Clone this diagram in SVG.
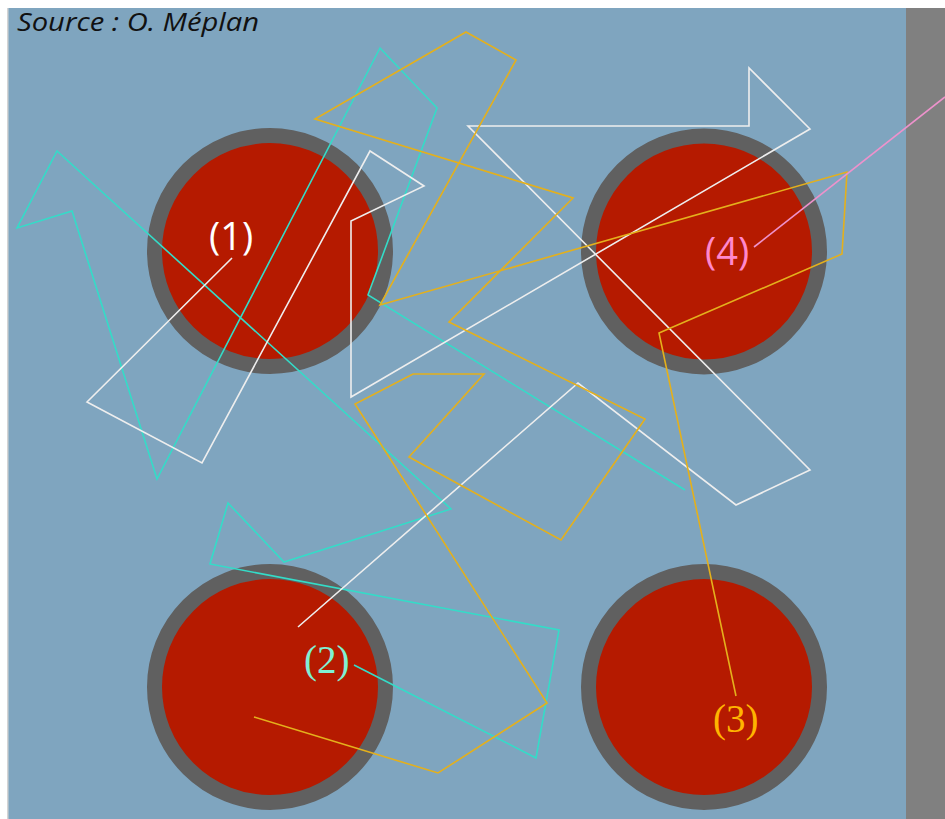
<svg xmlns="http://www.w3.org/2000/svg" width="945" height="819" viewBox="0 0 945 819">
<style>
.ring{fill:#b51a00;stroke:#606060;stroke-width:15}
.ray{fill:none;stroke-width:1.6;stroke-linejoin:miter}
.cyan{stroke:#34dcc8}
.white{stroke:#eeeeee}
.yellow{stroke:#e4b01c}
.pink{stroke:#ee92cc}
.sans{font-family:"Open Sans","Liberation Sans",sans-serif;font-size:38px}
.serif{font-family:"Liberation Serif","Times New Roman",serif;font-size:39px}
</style>
<rect x="0" y="0" width="945" height="819" fill="#ffffff"/>
<rect x="7" y="8" width="2" height="811" fill="#d4d4d4"/>
<rect x="8.5" y="8" width="898" height="811" fill="#7fa5bf"/>
<rect x="906" y="8" width="39" height="811" fill="#808080"/>
<text x="17" y="31" font-family="'Open Sans','Liberation Sans',sans-serif" font-style="italic" font-size="26" textLength="242" lengthAdjust="spacingAndGlyphs" fill="#111111">Source : O. Méplan</text>
<g id="disk1"><circle class="ring" cx="270" cy="251" r="115.5"/></g>
<g id="disk4"><circle class="ring" cx="704" cy="251.5" r="115.5"/></g>
<g id="disk2"><circle class="ring" cx="270" cy="687" r="115.5"/></g>
<g id="disk3"><circle class="ring" cx="704" cy="687" r="115.5"/></g>
<g id="connectors">
<polyline class="ray cyan" points="685,490 368,295 437,108 380,48 157,479 72,211 17,228 57,151 451,509 284,562 228,503 210,564 559,630 536,758 354,665"/>
<polyline class="ray white" points="232,258 87,402 202,463 370,151 424,186 351,221 351,397 810,129 749,68 749,126 468,126 810,470 736,505 578,383 298,627"/>
<polyline class="ray yellow" points="736,696 659,333 842,254 847,172 380,305 516,60 466,32 315,119 573,198 449,322 645,419 561,540 409,457 484,374 413,374 355,404 547,703 438,773 254,717"/>
<polyline class="ray pink" points="754,247 945,97"/>
</g>
<g id="label1"><text class="sans" x="209" y="250" fill="#ffffff">(1)</text></g>
<g id="label4"><text class="sans" x="705" y="265" fill="#ff88cc">(4)</text></g>
<g id="label2"><text class="serif" x="304" y="673" fill="#7ff0d4">(2)</text></g>
<g id="label3"><text class="serif" x="713" y="732" fill="#ffb400">(3)</text></g>
</svg>
